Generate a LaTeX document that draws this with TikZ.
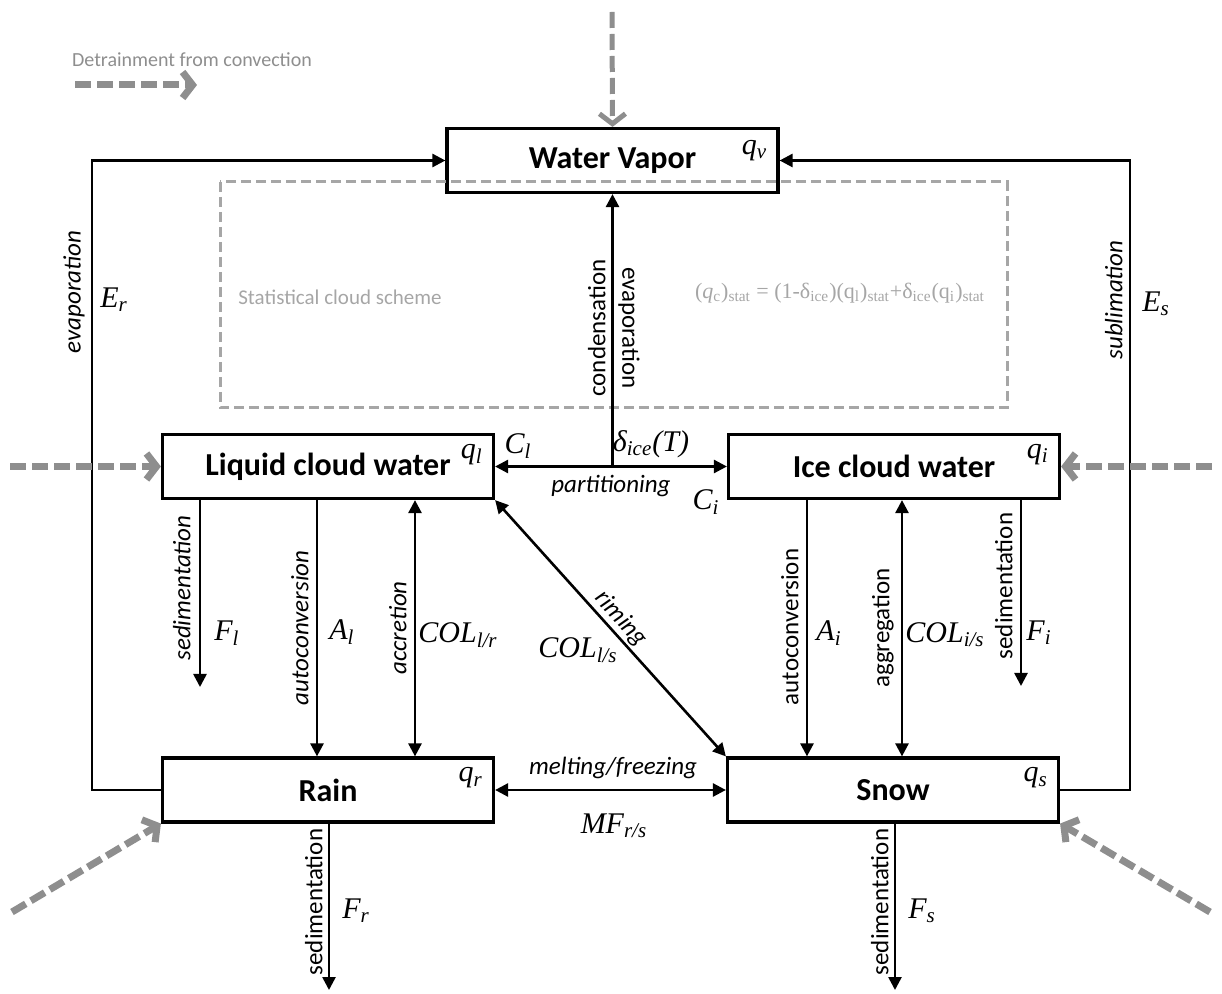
\documentclass[tikz,border=0pt]{standalone}
\usepackage{fontspec}
\setmainfont{Carlito}
\newfontfamily\symserif{Liberation Serif}
\usepackage{amsmath}
\usetikzlibrary{arrows.meta,positioning}

\definecolor{detrgray}{HTML}{8E8E8E}
\definecolor{statgray}{HTML}{A6A6A6}

\newcommand{\boxfont}{\fontsize{16}{18}\selectfont\bfseries}
\newcommand{\procfont}{\fontsize{12.5}{14}\selectfont\itshape}
\newcommand{\uprocfont}{\fontsize{12.5}{14}\selectfont}
\newcommand{\symfont}{\fontsize{15}{17}\selectfont\symserif\itshape}
\newcommand{\notefont}{\fontsize{10.5}{12}\selectfont}
\newcommand{\sub}[1]{\textsubscript{#1}}

\tikzset{
  species/.style={draw, line width=1.6pt, minimum width=165.5pt, minimum height=32pt, inner sep=0pt, font=\boxfont},
  flux/.style={line width=1.3pt, -{Triangle[length=6.5pt,width=6.5pt]}},
  biflux/.style={line width=1.3pt, {Triangle[length=6.5pt,width=6.5pt]}-{Triangle[length=6.5pt,width=6.5pt]}},
  detr/.style={detrgray, line width=3.5pt, dash pattern=on 8pt off 3pt, -{Straight Barb[length=5pt,width=13pt]}},
  proc/.style={font=\procfont, inner sep=1pt},
  uproc/.style={font=\uprocfont, inner sep=1pt},
  sym/.style={font=\symfont, inner sep=1pt},
  note/.style={statgray, font=\notefont, inner sep=1pt},
}

\begin{document}
\begin{tikzpicture}[x=0.5pt, y=-0.5pt]
\useasboundingbox (0,0) rectangle (1222,994);

% Species boxes
\node[species] (wv) at (612.5,160.5) {Water Vapor};
\node[species] (lcw) at (328,466.5) {Liquid cloud water};
\node[species] (icw) at (894,466.5) {Ice cloud water};
\node[species] (rain) at (328,790) {Rain};
\node[species] (snow) at (893,790) {Snow};

\node[sym, anchor=north east] (qv) at ([xshift=-5pt,yshift=-5.5pt]wv.north east) {q\sub{v}};
\node[sym, anchor=north east] (ql) at ([xshift=-5pt,yshift=-4.5pt]lcw.north east) {q\sub{l}};
\node[sym, anchor=north east] (qi) at ([xshift=-5pt,yshift=-4.5pt]icw.north east) {q\sub{i}};
\node[sym, anchor=north east] (qr) at ([xshift=-5pt,yshift=-4.5pt]rain.north east) {q\sub{r}};
\node[sym, anchor=north east] (qs) at ([xshift=-5pt,yshift=-4.5pt]snow.north east) {q\sub{s}};

% Statistical cloud scheme
\draw[statgray, line width=1.5pt, dash pattern=on 5pt off 2.5pt] (220,182) rectangle (1007,408);
\node[note] (stat) at (340,297) {Statistical cloud scheme};
\node[note, font=\fontsize{11}{12}\selectfont\symserif] (qcstat) at (840,293)
  {(\textit{q}\sub{c})\sub{stat} = (1-δ\sub{ice})(q\sub{l})\sub{stat}+δ\sub{ice}(q\sub{i})\sub{stat}};

% Evaporation and sublimation loops
\coordinate (lloop) at (92,0);
\coordinate (rloop) at (1130,0);
\draw[flux] (rain.west) -| (lloop |- wv.west) -- (wv.west);
\draw[flux] (snow.east) -| (rloop |- wv.east) -- (wv.east);
\node[proc, rotate=90, anchor=south] (evr) at (87,292) {evaporation};
\node[sym] (er) at (114,300) {E\sub{r}};
\node[proc, rotate=90, anchor=south] (subl) at (1125,300) {sublimation};
\node[sym] (es) at (1156,304) {E\sub{s}};

% Condensation and partitioning
\draw[flux] (wv.south |- lcw.east) -- (wv.south);
\node[uproc, rotate=90, anchor=south] (cond) at (608,328) {condensation};
\node[uproc, rotate=-90, anchor=south] (evap) at (616,328) {evaporation};
\draw[biflux] (lcw.east) -- (icw.west);
\node[sym] (cl) at (518,446) {C\sub{l}};
\node[sym] (dice) at (651,444) {δ\sub{ice}(T)};
\node[proc] (part) at (611,486) {partitioning};
\node[sym] (ci) at (706,502) {C\sub{i}};

% Liquid cloud water fluxes
\coordinate (xsl) at (200,687);
\coordinate (xal) at (317,0);
\coordinate (xcl) at (415,0);
\draw[flux] (xsl |- lcw.south) -- (xsl);
\draw[flux] (xal |- lcw.south) -- (xal |- rain.north);
\draw[biflux] (xcl |- lcw.south) -- (xcl |- rain.north);
\node[proc, rotate=90, anchor=south] (sedl) at (193,588) {sedimentation};
\node[sym] (fl) at (227,633) {F\sub{l}};
\node[proc, rotate=90, anchor=south] (autl) at (311,628) {autoconversion};
\node[sym] (al) at (342,632) {A\sub{l}};
\node[proc, rotate=90, anchor=south] (accr) at (409,628) {accretion};
\node[sym] (colr) at (458,635) {COL\sub{l/r}};

% Riming
\draw[biflux] (lcw.south east) -- node[proc, sloped, above, pos=0.5] (rim) {riming} (snow.north west);
\node[sym] (cols) at (578,650) {COL\sub{l/s}};

% Ice cloud water fluxes
\coordinate (xai) at (807,0);
\coordinate (xgi) at (902,0);
\coordinate (xsi) at (1021,686);
\draw[flux] (xai |- icw.south) -- (xai |- snow.north);
\draw[biflux] (xgi |- icw.south) -- (xgi |- snow.north);
\draw[flux] (xsi |- icw.south) -- (xsi);
\node[uproc, rotate=90, anchor=south] (auti) at (801,627) {autoconversion};
\node[sym] (ai) at (829,633) {A\sub{i}};
\node[uproc, rotate=90, anchor=south] (aggr) at (896,628) {aggregation};
\node[sym] (coli) at (945,635) {COL\sub{i/s}};
\node[uproc, rotate=90, anchor=south] (sedi) at (1015,586) {sedimentation};
\node[sym] (fi) at (1039,633) {F\sub{i}};

% Melting and freezing
\draw[biflux] (rain.east) -- (snow.west);
\node[proc] (melt) at (613,768) {melting/freezing};
\node[sym] (mf) at (614,826) {MF\sub{r/s}};

% Sedimentation of rain and snow
\coordinate (xsr) at (329,990);
\coordinate (xss) at (895,990);
\draw[flux] (xsr |- rain.south) -- (xsr);
\draw[flux] (xss |- snow.south) -- (xss);
\node[uproc, rotate=90, anchor=south] (sedr) at (325,902) {sedimentation};
\node[sym] (fr) at (356,911) {F\sub{r}};
\node[uproc, rotate=90, anchor=south] (seds) at (891,902) {sedimentation};
\node[sym] (fs) at (922,911) {F\sub{s}};

% Detrainment from convection
\node[note, detrgray, font=\fontsize{10}{12}\selectfont] (legtxt) at (192,60) {Detrainment from convection};
\coordinate (leg1) at (75,85);
\coordinate (leg2) at (197,85);
\draw[detr] (leg1) -- (leg2);
\coordinate (dtop) at (612,12);
\coordinate (dleft) at (10,466.5);
\coordinate (dright) at (1212,466.5);
\coordinate (dbl) at (12,912);
\coordinate (dbr) at (1210,912);
\draw[detr, line width=2.5pt] (dtop) -- (wv.north);
\draw[detr] (dleft) -- (lcw.west);
\draw[detr] (dright) -- (icw.east);
\draw[detr] (dbl) -- (rain.south west);
\draw[detr] (dbr) -- (snow.south east);
\end{tikzpicture}
\end{document}
